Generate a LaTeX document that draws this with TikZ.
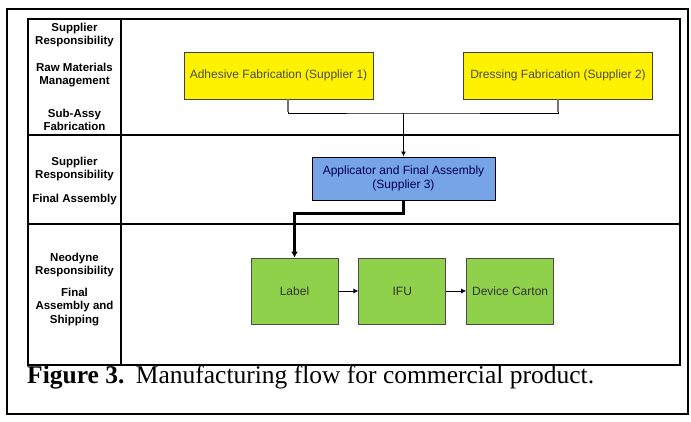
\documentclass[tikz,border=0pt]{standalone}
\usepackage{fontspec}
\setmainfont{Liberation Serif}
\setsansfont{Liberation Sans}
\usetikzlibrary{positioning, arrows.meta}
\usepackage{xcolor}
\definecolor{asmblue}{RGB}{118,164,230}
\definecolor{packgreen}{RGB}{143,209,74}

\begin{document}
\begin{tikzpicture}[
        x=1pt, y=-1pt,
        node distance=20pt,
        every node/.style={font=\sffamily\fontsize{12}{14}\selectfont, inner sep=2pt},
        align=center,
        >={Latex[width=5pt,length=5pt]},
        lanelabel/.style={font=\sffamily\bfseries\fontsize{11.5}{13.5}\selectfont},
        supplier/.style={rectangle, draw=black!75, fill=yellow, text=black!70, line width=0.8pt, minimum width=189pt, minimum height=47pt},
        assembly/.style={rectangle, draw=black, fill=asmblue, text=black!70!blue, line width=1pt, minimum width=183pt, minimum height=43pt},
        packing/.style={rectangle, draw=black!70, fill=packgreen, text=black!80, line width=0.8pt, minimum width=87pt, minimum height=66pt},
        grid/.style={draw, line width=1.3pt},
        line/.style={draw, ->, line width=0.8pt},
        ]

        \useasboundingbox (0,0) rectangle (691,421);

        % Frame and swim lanes
        \draw[line width=1.6pt] (7,9) rectangle (688,414);
        \draw[grid] (28,19) rectangle (680,365);
        \draw[grid] (121,19) -- (121,365);
        \draw[grid] (28,135) -- (680,135);
        \draw[grid] (28,224) -- (680,224);

        % Lane labels
        \node [lanelabel] (supplyA) at (74.5,35) {Supplier\\Responsibility};
        \node [lanelabel] (raw) at (74.5,75) {Raw Materials\\Management};
        \node [lanelabel] (subassy) at (74.5,120) {Sub-Assy\\Fabrication};
        \node [lanelabel] (supplyB) at (74.5,169) {Supplier\\Responsibility};
        \node [lanelabel] (finalA) at (74.5,200) {Final Assembly};
        \node [lanelabel] (neodyne) at (74.5,265) {Neodyne\\Responsibility};
        \node [lanelabel] (finalB) at (74.5,307) {Final\\Assembly and\\Shipping};

        % Process boxes
        \node [supplier] (adhesive) at (278.5,75.5) {Adhesive Fabrication (Supplier 1)};
        \node [supplier] (dressing) at (558,75.5) {Dressing Fabrication (Supplier 2)};
        \node [assembly] (applicator) at (403.5,178.5) {Applicator and Final Assembly\\(Supplier 3)};
        \node [packing] (label) at (294.5,291) {Label};
        \node [packing, right=of label] (ifu) {IFU};
        \node [packing, right=of ifu] (carton) {Device Carton};

        \coordinate (merge) at (403.5,113);

        % Connectors
        \draw[line width=0.8pt] ([xshift=9.5pt]adhesive.south) |- (merge) -| (dressing.south);
        \draw[draw=black!55, line width=1.8pt] ([xshift=9.5pt]adhesive.south) -- ++(0,13);
        \draw[draw=black!55, line width=1.8pt] (dressing.south) -- ++(0,13);
        \draw[line] (merge) -- (applicator.north);

        \draw[line, line width=2.2pt, >={Latex[width=7pt,length=6pt]}] (applicator.south) -- ++(0,13) -| (label.north);

        \draw[line, draw=black!80!blue] (label) -- (ifu);
        \draw[line, draw=black!80!blue] (ifu) -- (carton);

        % Caption
        \node [anchor=base west, inner sep=0pt, font=\rmfamily\fontsize{25.5}{28}\selectfont] (caption) at (27,383)
            {\textbf{Figure 3.}\hspace{0.45em}Manufacturing flow for commercial product.};

    \end{tikzpicture}
\end{document}
